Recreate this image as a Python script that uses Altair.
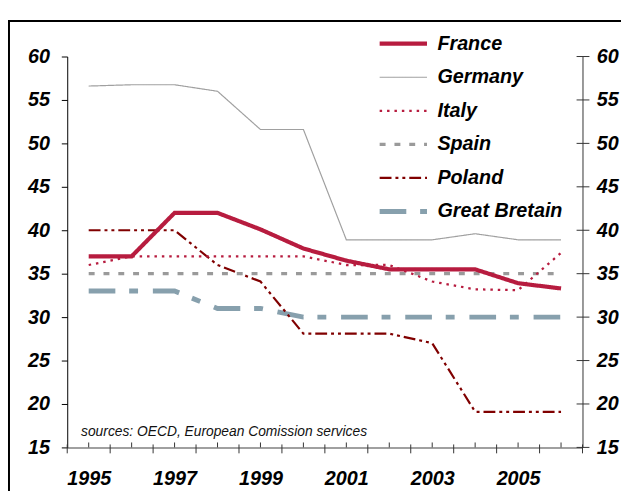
import altair as alt
import pandas as pd

years = [1995, 1996, 1997, 1998, 1999, 2000, 2001, 2002, 2003, 2004, 2005, 2006]
france = [37.0, 37.0, 42.0, 42.0, 40.1, 37.9, 36.5, 35.5, 35.5, 35.5, 33.9, 33.3]
germany = [56.6, 56.75, 56.75, 56.0, 51.6, 51.6, 38.9, 38.9, 38.9, 39.6, 38.9, 38.9]
italy = [36.0, 37.0, 37.0, 37.0, 37.0, 37.0, 36.0, 36.0, 34.1, 33.2, 33.1, 37.4]
spain = [35.0, 35.0, 35.0, 35.0, 35.0, 35.0, 35.0, 35.0, 35.0, 35.0, 35.0, 35.0]
poland = [40.0, 40.0, 40.0, 36.0, 34.1, 28.1, 28.1, 28.1, 27.0, 19.1, 19.1, 19.1]
great_britain = [33.0, 33.0, 33.0, 31.0, 31.0, 30.0, 30.0, 30.0, 30.0, 30.0, 30.0, 30.0]

countries = ["France", "Germany", "Italy", "Spain", "Poland", "Great Bretain"]
series = [france, germany, italy, spain, poland, great_britain]
y_ticks = [15, 20, 25, 30, 35, 40, 45, 50, 55, 60]
x_labels = [1995, 1997, 1999, 2001, 2003, 2005]
source_text = "sources: OECD, European Comission services"

colors = ["#B71C3F", "#A0A0A0", "#B71C3F", "#9A9A9A", "#800000", "#87A0AD"]
dashes = [[1, 0], [1, 0], [2.5, 5], [6, 9], [12, 4, 3, 4, 3, 4], [27, 14, 9, 15]]
widths = [4.2, 1.2, 2.3, 3.2, 2.2, 5.0]

rows = []
for c, vals in reversed(list(zip(countries, series))):
    for yr, v in zip(years, vals):
        rows.append({"year": yr, "value": v, "country": c})
df = pd.DataFrame(rows)

bounds = pd.DataFrame({"b": [y - 0.5 for y in years] + [years[-1] + 0.5]})
centers = pd.DataFrame({"c": years})
ticks_df = pd.DataFrame({"t": y_ticks})

FONT = "Liberation Sans"
FS = 20
W, H = 522, 396

xscale = alt.Scale(domain=[years[0] - 0.5, years[-1] + 0.5], nice=False, zero=False)
yscale = alt.Scale(domain=[15, 60], nice=False, zero=False)

legend = alt.Legend(
    title=None, orient="none", legendX=314, legendY=-23,
    symbolType="stroke", symbolSize=2304, clipHeight=20,
    labelFont=FONT, labelFontSize=FS, labelFontStyle="italic", labelFontWeight="bold",
    labelColor="black", rowPadding=14, labelOffset=8, padding=0,
)

x_axis = alt.Axis(
    title=None, values=x_labels, format="d", ticks=False,
    domainColor="#808080", domainWidth=1.5,
    labelFont=FONT, labelFontSize=FS, labelFontStyle="italic", labelFontWeight="bold",
    labelColor="black", labelPadding=22, grid=False, labelFlush=False,
)
left_axis = alt.Axis(
    title=None, values=y_ticks, tickSize=6, tickColor="black", domainColor="black",
    domainWidth=1, tickWidth=1,
    labelFont=FONT, labelFontSize=FS, labelFontStyle="italic", labelFontWeight="bold",
    labelColor="black", labelPadding=12, grid=False,
)
right_axis = alt.Axis(
    title=None, values=y_ticks, orient="right", ticks=False, domainColor="#333333",
    domainWidth=1,
    labelFont=FONT, labelFontSize=FS, labelFontStyle="italic", labelFontWeight="bold",
    labelColor="black", labelPadding=14, grid=False,
)

frame = alt.Chart(alt.Data(values=[{}])).mark_rect(
    filled=False, stroke="black", strokeWidth=2
).encode(
    x=alt.value(-59), x2=alt.value(W + 200), y=alt.value(-36), y2=alt.value(H + 200)
)

lines = alt.Chart(df).mark_line().encode(
    x=alt.X("year:Q", scale=xscale, axis=x_axis),
    y=alt.Y("value:Q", scale=yscale, axis=left_axis),
    color=alt.Color("country:N", scale=alt.Scale(domain=countries, range=colors), legend=legend),
    strokeDash=alt.StrokeDash("country:N", scale=alt.Scale(domain=countries, range=dashes), legend=legend),
    strokeWidth=alt.StrokeWidth("country:N", scale=alt.Scale(type="ordinal", domain=countries, range=widths), legend=legend),
)

right_ticks = alt.Chart(ticks_df).mark_rule(color="#333333", strokeWidth=1).encode(
    y=alt.Y("t:Q", scale=yscale, axis=right_axis),
    x=alt.value(W - 6), x2=alt.value(W + 7),
)

bound_ticks = alt.Chart(bounds).mark_rule(color="#333333", strokeWidth=1).encode(
    x=alt.X("b:Q", scale=xscale, axis=x_axis),
    y=alt.value(H - 3), y2=alt.value(H + 6),
)
center_ticks = alt.Chart(centers).mark_rule(color="#333333", strokeWidth=1).encode(
    x=alt.X("c:Q", scale=xscale, axis=x_axis),
    y=alt.value(H - 5), y2=alt.value(H),
)

source = alt.Chart(alt.Data(values=[{"t": source_text}])).mark_text(
    align="left", baseline="middle", font=FONT, fontSize=14, fontStyle="italic", color="#111111"
).encode(text="t:N", x=alt.value(14), y=alt.value(380))

chart = alt.layer(
    frame, lines, bound_ticks, center_ticks, right_ticks, source
).resolve_axis(y="independent").properties(
    width=W, height=H,
    autosize=alt.AutoSizeParams(type="none"),
    padding={"left": 60, "top": 46, "right": 39, "bottom": 41},
    background="white",
).configure_view(stroke=None)

chart.save("out.html", embed_options={"renderer": "svg", "actions": False})
